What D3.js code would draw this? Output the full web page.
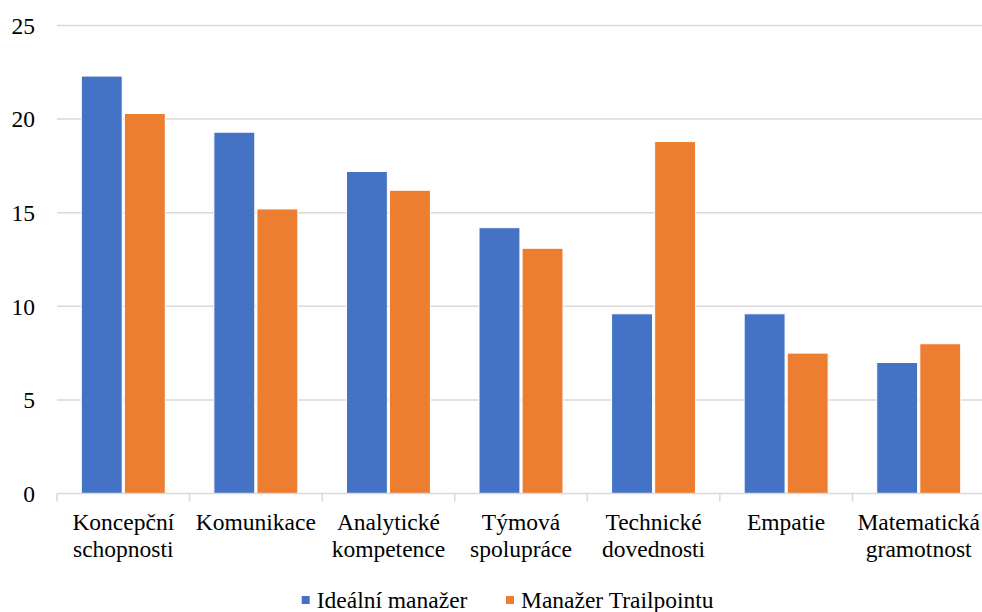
<!DOCTYPE html>
<html><head><meta charset="utf-8">
<script src="https://cdn.jsdelivr.net/npm/d3@7"></script>
<style>body{margin:0;background:#fff}svg{display:block}</style>
</head><body><svg id="c" width="982" height="612" font-family="'Liberation Serif', 'Times New Roman', serif"></svg>
<script>
const categories = [["Koncepční","schopnosti"],["Komunikace"],["Analytické","kompetence"],["Týmová","spolupráce"],["Technické","dovednosti"],["Empatie"],["Matematická","gramotnost"]];
const seriesNames = ["Ideální manažer","Manažer Trailpointu"];
const idealni = [22.3, 19.3, 17.2, 14.2, 9.6, 9.6, 7.0];
const trailpoint = [20.3, 15.2, 16.2, 13.1, 18.8, 7.5, 8.0];
const yTicks = [0, 5, 10, 15, 20, 25];
const colors = ["#4472C4", "#ED7D31"];

const FONT = "'Liberation Serif', 'Times New Roman', serif";
const svg = d3.select("#c");
const x0 = 57, x1 = 985, yB = 493.5, yT = 25.5;
const keys = categories.map((c,i)=>i);
const x = d3.scaleBand().domain(keys).range([x0, x1]).paddingInner(0).paddingOuter(0);
const y = d3.scaleLinear().domain([0, 25]).range([yB, yT]);
const inner = d3.scaleBand().domain([0,1]).range([24.3, x.bandwidth()-24.3]).paddingInner(0.05);

// gridlines
svg.append("g").selectAll("line").data(yTicks.filter(t=>t>0)).join("line")
  .attr("x1", x0).attr("x2", x1).attr("y1", d=>y(d)).attr("y2", d=>y(d))
  .attr("stroke", "#d9d9d9").attr("stroke-width", 1.5);

// y labels
svg.append("g").selectAll("text").data(yTicks).join("text")
  .attr("font-family", FONT).attr("fill","#000")
  .attr("x", 35).attr("y", d=>y(d)).attr("dy", "0.35em").attr("text-anchor","end")
  .attr("font-size", "23.5px").text(d=>d);

// bars
const data = keys.map(i=>[idealni[i], trailpoint[i]]);
const g = svg.append("g").selectAll("g").data(data).join("g")
  .attr("transform", (d,i)=>`translate(${x(i)},0)`);
g.selectAll("rect").data(d=>d).join("rect")
  .attr("x", (d,j)=>inner(j)).attr("width", inner.bandwidth())
  .attr("y", d=>y(d)).attr("height", d=>yB - y(d))
  .attr("fill", (d,j)=>colors[j]).attr("stroke","#fff").attr("stroke-width",1);

// x axis
svg.append("line").attr("x1", x0).attr("x2", x1).attr("y1", yB).attr("y2", yB)
  .attr("stroke", "#d9d9d9").attr("stroke-width", 1.5);
svg.append("g").selectAll("line").data(d3.range(categories.length+1)).join("line")
  .attr("x1", d=>x0 + d*x.bandwidth()).attr("x2", d=>x0 + d*x.bandwidth())
  .attr("y1", yB).attr("y2", yB+8).attr("stroke","#d9d9d9").attr("stroke-width",1.5);

// category labels
const lab = svg.append("g").selectAll("text").data(categories).join("text")
  .attr("font-family", FONT).attr("fill","#000")
  .attr("text-anchor","middle").attr("font-size","23.5px")
  .attr("transform",(d,i)=>`translate(${x(i)+x.bandwidth()/2},530)`);
lab.selectAll("tspan").data(d=>d).join("tspan")
  .attr("x",0).attr("y",(d,k)=>k*27).text(d=>d);

// legend
const legX = [301.7, 506];
const leg = svg.append("g").selectAll("g").data(seriesNames).join("g")
  .attr("transform",(d,i)=>`translate(${legX[i]},600)`);
leg.append("rect").attr("x",0).attr("y",-4).attr("width",8).attr("height",8).attr("fill",(d,i)=>colors[i]);
leg.append("text").attr("font-family", FONT).attr("fill","#000")
  .attr("x",15).attr("y",8).attr("font-size","23.5px").text(d=>d);
</script></body></html>
